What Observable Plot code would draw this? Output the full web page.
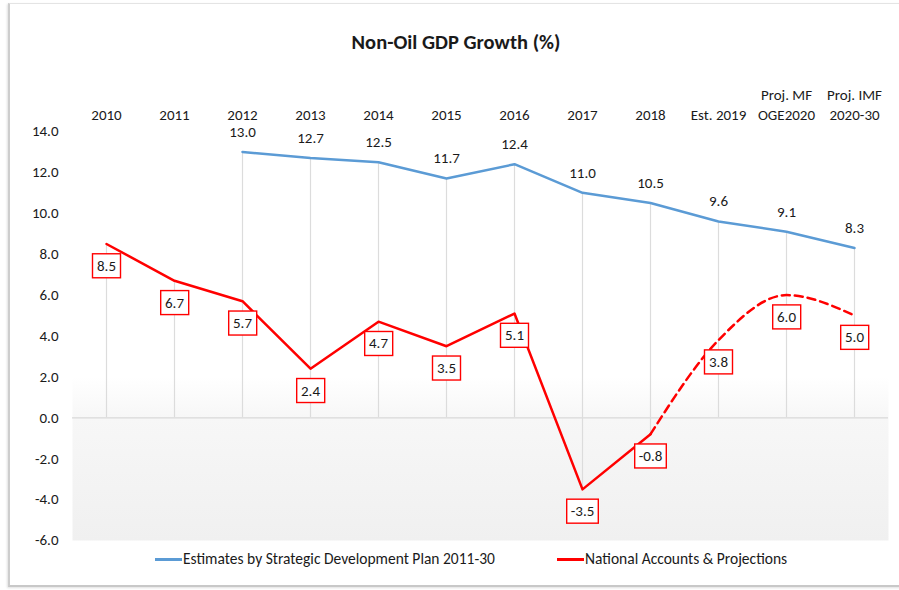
<!DOCTYPE html>
<html><head><meta charset="utf-8">
<script src="https://cdn.jsdelivr.net/npm/d3@7"></script>
<script src="https://cdn.jsdelivr.net/npm/@observablehq/plot@0.6"></script>
<style>
body{margin:0;background:#fff;font-family:Carlito,Lato,"Open Sans",sans-serif;color:#1a1a1a;}
#wrap{position:relative;width:899px;height:590px;overflow:hidden;background:#fff;}
#frame{position:absolute;left:8px;top:3px;width:900px;height:581px;border-top:1px solid #e4e4e4;border-left:2px solid #cdcdcd;border-bottom:2px solid #c8c8c8;box-shadow:-1px 1px 2px rgba(0,0,0,0.12);}
#chart{position:absolute;left:0;top:0;}
#title{position:absolute;left:0;top:29px;width:912px;text-align:center;font-weight:bold;font-size:20.5px;}
.sw{position:absolute;height:3px;top:558px;width:27px;}
.lt{position:absolute;top:550px;font-size:15.5px;line-height:18px;white-space:nowrap;}
</style></head><body>
<div id="wrap">
  <div id="frame"></div>
  <div id="chart"></div>
  <div id="title">Non-Oil GDP Growth (%)</div>
  <div id="legend"></div>
</div>
<script>
const categories = ["2010","2011","2012","2013","2014","2015","2016","2017","2018","2019","2020","2030"];
const tickLabels = ["2010","2011","2012","2013","2014","2015","2016","2017","2018","Est. 2019","Proj. MF\nOGE2020","Proj. IMF\n2020-30"];
const strategicPlan = [null,null,13.0,12.7,12.5,11.7,12.4,11.0,10.5,9.6,9.1,8.3];
const nationalAccounts = [8.5,6.7,5.7,2.4,4.7,3.5,5.1,-3.5,-0.8,3.8,6.0,5.0];
const yTicks = [-6,-4,-2,0,2,4,6,8,10,12,14];
const seriesNames = ["Estimates by Strategic Development Plan 2011-30","National Accounts & Projections"];
const seriesColors = ["#5B9BD5","#FF0000"];
const lastActualIndex = 8;

const blue = categories.map((c,i)=>({cat:c, v:strategicPlan[i]})).filter(d=>d.v!=null);
const red = categories.map((c,i)=>({cat:c, v:nationalAccounts[i], i}));
const redSolid = red.filter(d=>d.i<=lastActualIndex);
const redDashed = red.filter(d=>d.i>=lastActualIndex);
const drops = categories.map((c,i)=>{
  const vals=[strategicPlan[i],nationalAccounts[i]].filter(v=>v!=null);
  return {cat:c, top:Math.max(...vals,0), bottom:Math.min(...vals,0)};
});
const ticks = categories.map((c,i)=>({cat:c,label:tickLabels[i]}));

const font = "Carlito, Lato, 'Open Sans', sans-serif";
const fs = 15;
const svg = Plot.plot({
  width: 899, height: 590,
  marginTop: 131, marginBottom: 50, marginLeft: 72, marginRight: 11,
  style: {background:"transparent", fontFamily: font, fontSize: fs+"px", color:"#1a1a1a"},
  x: {type:"point", domain: categories, padding: 0.5, axis: null},
  y: {domain:[-6,14], ticks: yTicks, tickFormat: d=>d.toFixed(1), tickSize: 0, tickPadding: 14, label: null},
  marks: [
    Plot.frame({fill:"url(#bgGrad)", stroke:"none"}),
    Plot.ruleY([0], {stroke:"#d9d9d9", strokeWidth:1.2}),
    Plot.ruleX(drops, {x:"cat", y1:"top", y2:"bottom", stroke:"#dcdcdc", strokeWidth:1.2}),
    Plot.line(blue, {x:"cat", y:"v", stroke:seriesColors[0], strokeWidth:2.5}),
    Plot.line(redSolid, {x:"cat", y:"v", stroke:seriesColors[1], strokeWidth:2.5}),
    Plot.line(redDashed, {x:"cat", y:"v", stroke:seriesColors[1], strokeWidth:2.5, strokeDasharray:"8,5", curve:"monotone-x"}),
    Plot.text(blue, {x:"cat", y:"v", text:d=>d.v.toFixed(1), dy:-20, fill:"#1a1a1a", fontSize:fs}),
    Plot.text(red, {x:"cat", y:"v", text:d=>d.v.toFixed(1), dy:22, fill:"#1a1a1a", fontSize:fs, className:"boxlab"}),
    Plot.text(ticks, {x:"cat", text:"label", frameAnchor:"top", dy:-12, lineAnchor:"bottom", lineHeight:1.3, fill:"#1a1a1a", fontSize:fs})
  ]
});
document.getElementById("chart").appendChild(svg);

const ns = "http://www.w3.org/2000/svg";
const defs = document.createElementNS(ns,"defs");
defs.innerHTML = '<linearGradient id="bgGrad" x1="0" y1="0" x2="0" y2="1"><stop offset="0" stop-color="#ffffff"/><stop offset="0.6" stop-color="#ffffff"/><stop offset="0.7" stop-color="#f7f7f7"/><stop offset="1" stop-color="#f0f0f0"/></linearGradient>';
svg.insertBefore(defs, svg.firstChild);

svg.querySelectorAll("g.boxlab text").forEach(t=>{
  const b = t.getBBox();
  const w = Math.max(b.width+8, 28), h = 24;
  const cx = b.x + b.width/2, cy = b.y + b.height/2;
  const r = document.createElementNS(ns,"rect");
  r.setAttribute("x", cx - w/2); r.setAttribute("y", cy - h/2);
  r.setAttribute("width", w); r.setAttribute("height", h);
  r.setAttribute("fill","#ffffff"); r.setAttribute("stroke", seriesColors[1]); r.setAttribute("stroke-width", 1.4);
  const tr = t.getAttribute("transform"); if (tr) r.setAttribute("transform", tr);
  t.parentNode.insertBefore(r, t);
});

const lg = document.getElementById("legend");
const legendPos = [[155,183],[557,585]];
seriesNames.forEach((n,i)=>{
  const s=document.createElement("div"); s.className="sw"; s.style.left=legendPos[i][0]+"px"; s.style.background=seriesColors[i]; lg.appendChild(s);
  const t=document.createElement("div"); t.className="lt"; t.style.left=legendPos[i][1]+"px"; t.textContent=n; lg.appendChild(t);
});
</script>
</body></html>
